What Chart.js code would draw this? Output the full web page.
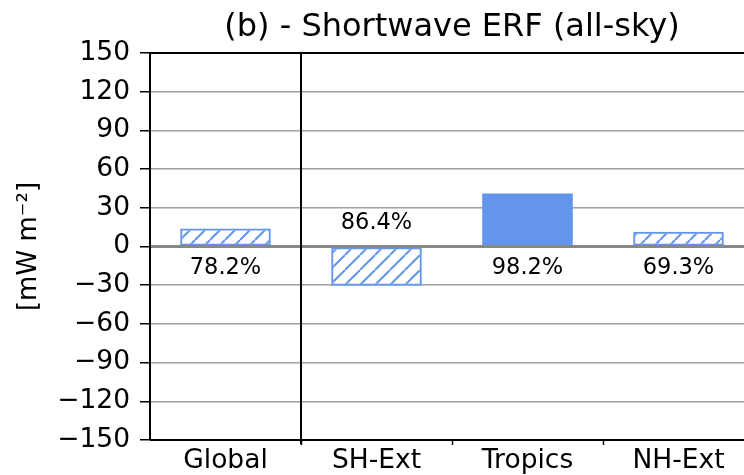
<!DOCTYPE html>
<html><head><meta charset="utf-8">
<script src="https://cdn.jsdelivr.net/npm/chart.js@4/dist/chart.umd.min.js"></script>
<style>html,body{margin:0;padding:0;background:#fff;overflow:hidden}</style>
</head><body>
<div style="width:744px;height:475px;position:relative;overflow:hidden"><canvas id="c" width="754" height="475" style="display:block"></canvas></div>
<script>
const categories = ['Global', 'SH-Ext', 'Tropics', 'NH-Ext'];
const erfValues = [14, -30.5, 41, 11.5];
const agreementLabels = ['78.2%', '86.4%', '98.2%', '69.3%'];
const isHatched = [true, true, false, true];
const yMin = -150, yMax = 150, yStep = 30;
const titleText = '(b) - Shortwave ERF (all-sky)';
const yLabelText = '[mW m\u207B\u00B2]';

const BLUE = '#6495ED';
const FONT = "'DejaVu Sans', sans-serif";

function hatchPattern(color) {
  const s = 15;
  const c = document.createElement('canvas');
  c.width = s; c.height = s;
  const g = c.getContext('2d');
  g.strokeStyle = color; g.lineWidth = 2;
  g.beginPath();
  for (const x0 of [-s, 0, s]) { g.moveTo(x0, s); g.lineTo(x0 + s, 0); }
  g.stroke();
  return g.createPattern(c, 'repeat');
}
const pat = hatchPattern(BLUE);

const decorPlugin = {
  id: 'decor',
  afterDatasetsDraw(chart) {
    const ctx = chart.ctx, a = chart.chartArea;
    const x = chart.scales.x, y = chart.scales.y;
    const y0 = y.getPixelForValue(0);
    ctx.save();
    // zero line
    ctx.strokeStyle = '#888888'; ctx.lineWidth = 3;
    ctx.beginPath(); ctx.moveTo(a.left, y0); ctx.lineTo(a.right, y0); ctx.stroke();
    // spines
    ctx.strokeStyle = '#000'; ctx.lineWidth = 2;
    ctx.beginPath();
    ctx.moveTo(a.left, a.bottom); ctx.lineTo(a.left, a.top); ctx.lineTo(a.right, a.top);
    ctx.moveTo(a.left, a.bottom); ctx.lineTo(a.right, a.bottom);
    const xs = x.getPixelForValue(0.5);
    ctx.moveTo(xs, a.top); ctx.lineTo(xs, a.bottom + 4);
    ctx.stroke();
    // labels
    ctx.fillStyle = '#000';
    ctx.font = '22.5px ' + FONT;
    ctx.textAlign = 'center'; ctx.textBaseline = 'middle';
    const meta = chart.getDatasetMeta(0);
    meta.data.forEach((bar, i) => {
      const ty = erfValues[i] >= 0 ? y0 + 22 : y0 - 23;
      ctx.fillText(agreementLabels[i], bar.x, ty);
    });
    ctx.restore();
  },
  afterDraw(chart) {
    const ctx = chart.ctx, a = chart.chartArea;
    ctx.save();
    ctx.fillStyle = '#000';
    ctx.font = '32px ' + FONT;
    ctx.textAlign = 'center'; ctx.textBaseline = 'middle';
    ctx.fillText(titleText, (a.left + a.right) / 2, 28);
    ctx.restore();
  }
};

new Chart(document.getElementById('c'), {
  type: 'bar',
  data: {
    labels: categories,
    datasets: [{
      data: erfValues,
      backgroundColor: isHatched.map(h => h ? pat : BLUE),
      borderColor: BLUE,
      borderWidth: isHatched.map(h => h ? 2 : 0),
      borderSkipped: false,
      barPercentage: 0.6,
      categoryPercentage: 1.0
    }]
  },
  options: {
    responsive: false,
    animation: false,
    devicePixelRatio: 1,
    layout: { padding: { left: 0, top: 53, right: 0, bottom: 0 } },
    plugins: { legend: { display: false }, tooltip: { enabled: false }, title: { display: false } },
    scales: {
      x: {
        afterFit(s) { s.height = 35; },
        border: { display: false },
        grid: {
          offset: true,
          drawOnChartArea: false,
          drawTicks: true,
          tickLength: 5,
          tickWidth: 1.5,
          tickColor: c => c.index === 0 ? 'rgba(0,0,0,0)' : '#000'
        },
        ticks: { color: '#000', font: { family: FONT, size: 26.5 }, padding: 0, maxRotation: 0 }
      },
      y: {
        min: yMin, max: yMax,
        afterFit(s) { s.width = 150; },
        border: { display: false },
        grid: {
          color: c => (c.tick && (c.tick.value === 0 || c.tick.value === yMin || c.tick.value === yMax)) ? 'rgba(0,0,0,0)' : '#a0a0a0',
          lineWidth: 1.5,
          tickLength: 10,
          tickWidth: 1.5,
          tickColor: '#000'
        },
        ticks: {
          stepSize: yStep,
          color: '#000',
          padding: 10,
          font: { family: FONT, size: 26.5 },
          callback: v => String(v).replace('-', '\u2212')
        },
        title: {
          display: true, text: yLabelText, color: '#000',
          font: { family: FONT, size: 26 },
          padding: { top: 14, bottom: 0 }
        }
      }
    }
  },
  plugins: [decorPlugin]
});
</script>
</body></html>
